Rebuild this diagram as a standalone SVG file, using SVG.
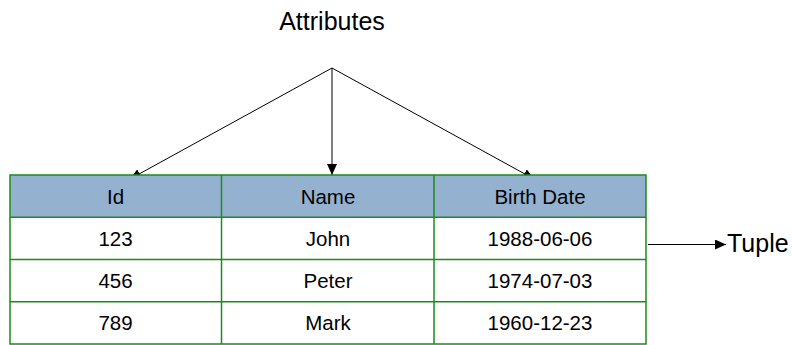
<svg xmlns="http://www.w3.org/2000/svg" width="792" height="345" viewBox="0 0 792 345">
  <defs>
    <marker id="arrow" markerWidth="11" markerHeight="10" refX="11" refY="5" orient="auto" markerUnits="userSpaceOnUse">
      <path d="M0,0 L11,5 L0,10 Z" fill="#000"/>
    </marker>
    <style>
      .lbl { font-family: "Liberation Sans", Arial, sans-serif; fill: #000; }
      .big { font-size: 25px; }
      .cell { font-size: 20.5px; text-anchor: middle; }
      .head { fill: #95B1D0; }
      .body { fill: #fff; }
      .grid { fill: none; stroke: #1A8C1A; stroke-width: 1.5; }
      .link { stroke: #000; stroke-width: 1; fill: none; marker-end: url(#arrow); }
    </style>
  </defs>
  <rect width="792" height="345" fill="#fff"/>

  <!-- connectors (drawn first so the table edge overlaps the slanted arrow tips) -->
  <g id="connectors">
    <line class="link" x1="332" y1="68" x2="130" y2="179"/>
    <line class="link" x1="332" y1="68" x2="332" y2="175"/>
    <line class="link" x1="332" y1="68" x2="534" y2="179"/>
    <line class="link" x1="648" y1="244.5" x2="726" y2="244.5"/>
  </g>

  <!-- label above the table -->
  <g id="attributes">
    <text class="lbl big" x="332" y="30" text-anchor="middle">Attributes</text>
  </g>

  <!-- relation table -->
  <g id="table">
    <rect class="body" x="10" y="175" width="636" height="169"/>
    <rect class="head" x="10" y="175" width="636" height="42.25"/>
    <rect class="grid" x="10" y="175" width="636" height="169"/>
    <line class="grid" x1="10" y1="217.25" x2="646" y2="217.25"/>
    <line class="grid" x1="10" y1="259.5" x2="646" y2="259.5"/>
    <line class="grid" x1="10" y1="301.75" x2="646" y2="301.75"/>
    <line class="grid" x1="221.5" y1="175" x2="221.5" y2="344"/>
    <line class="grid" x1="434" y1="175" x2="434" y2="344"/>

    <text class="lbl cell" x="115.5" y="203.5">Id</text>
    <text class="lbl cell" x="328" y="203.5">Name</text>
    <text class="lbl cell" x="540" y="203.5">Birth Date</text>

    <text class="lbl cell" x="115.5" y="246">123</text>
    <text class="lbl cell" x="328" y="246">John</text>
    <text class="lbl cell" x="540" y="246">1988-06-06</text>

    <text class="lbl cell" x="115.5" y="288">456</text>
    <text class="lbl cell" x="328" y="288">Peter</text>
    <text class="lbl cell" x="540" y="288">1974-07-03</text>

    <text class="lbl cell" x="115.5" y="330">789</text>
    <text class="lbl cell" x="328" y="330">Mark</text>
    <text class="lbl cell" x="540" y="330">1960-12-23</text>
  </g>

  <!-- label right of the table -->
  <g id="tuple">
    <text class="lbl big" x="727" y="252">Tuple</text>
  </g>
</svg>
